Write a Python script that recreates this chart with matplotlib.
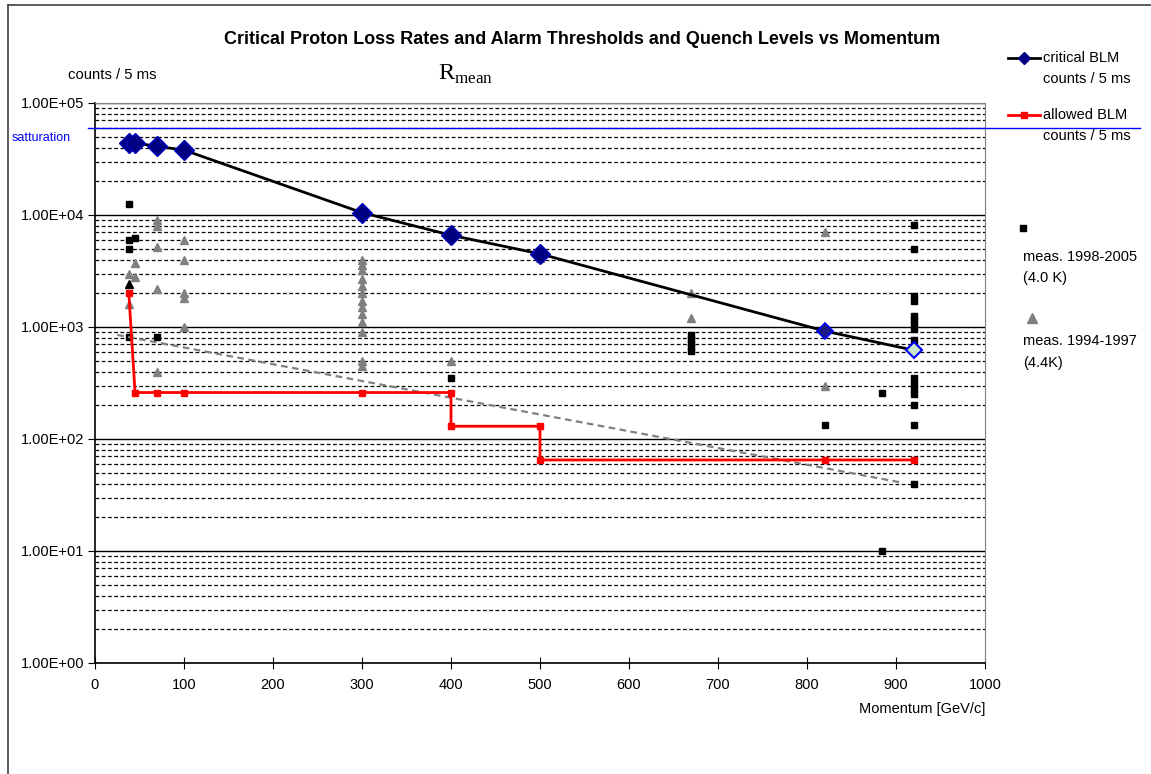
import numpy as np
import matplotlib
matplotlib.use("Agg")
import matplotlib.pyplot as plt
from matplotlib.lines import Line2D
from matplotlib.ticker import LogLocator, NullFormatter

plt.rcParams["font.family"] = ["Liberation Sans", "DejaVu Sans"]

# critical BLM counts (blue diamonds, black line)
crit_p = [38, 45, 70, 100, 300, 400, 500, 820, 920]
crit_c = [44000, 44000, 41000, 38000, 10500, 6600, 4500, 920, 620]

# allowed BLM counts (red step)
allow_p = [38, 45, 70, 100, 300, 400, 400, 500, 500, 820, 920]
allow_c = [2000, 260, 260, 260, 260, 260, 130, 130, 65, 65, 65]

# dashed trend through the measurements
trend_p = [25, 905]
trend_c = [850, 41]

saturation = 60000

# measurements 1998-2005 (4.0 K)
m98_p = [38, 38, 38, 38, 45, 70, 400,
         670, 670, 670, 670, 670, 820, 884, 884,
         920, 920, 920, 920, 920, 920, 920, 920, 920, 920,
         920, 920, 920, 920, 920, 920, 920]
m98_c = [12500, 6000, 5000, 815, 6200, 815, 350,
         850, 780, 720, 660, 610, 133, 260, 10,
         8100, 5000, 1900, 1700, 1250, 1150, 1050, 950, 760, 680,
         350, 310, 280, 250, 200, 133, 40]

# measurements 1994-1997 (4.4 K)
m94_p = [38, 38, 45, 45, 70, 70, 70, 70, 70,
         100, 100, 100, 100, 100,
         300, 300, 300, 300, 300, 300, 300, 300, 300, 300, 300, 300, 300,
         400, 500, 670, 670, 820, 820, 820]
m94_c = [3000, 1600, 3700, 2800, 9000, 8000, 5200, 2200, 400,
         6000, 4000, 2000, 1800, 1000,
         4000, 3600, 3200, 2700, 2300, 2000, 1700, 1500, 1300, 1100, 900, 500, 450,
         500, 4100, 2000, 1200, 7000, 950, 300]

y_ticks = [1e0, 1e1, 1e2, 1e3, 1e4, 1e5]
y_labels = ["1.00E+00", "1.00E+01", "1.00E+02", "1.00E+03", "1.00E+04", "1.00E+05"]
x_ticks = list(range(0, 1001, 100))

W, H = 1151, 774
fig = plt.figure(figsize=(W / 100, H / 100), dpi=100)
ax = fig.add_axes([95 / W, 1 - 663 / H, 890 / W, 560 / H])

ax.set_yscale("log")
ax.set_xlim(0, 1000)
ax.set_ylim(1, 1e5)

# grid
ax.yaxis.set_minor_locator(LogLocator(base=10, subs=np.arange(2, 10)))
ax.yaxis.set_minor_formatter(NullFormatter())
ax.grid(which="major", axis="y", color="black", lw=1.0, ls="-")
ax.grid(which="minor", axis="y", color="black", lw=0.9, ls=(0, (3, 2)))
ax.set_axisbelow(True)

# data
ax.plot(m98_p, m98_c, ls="none", marker="s", ms=5, color="black", zorder=3)
ax.plot(m94_p, m94_c, ls="none", marker="^", ms=6, color="#808080", mec="#808080", zorder=3)
ax.plot([38], [2400], ls="none", marker="^", ms=6, color="black", zorder=3)
ax.plot(trend_p, trend_c, color="#808080", lw=1.6, ls=(0, (3, 2)), zorder=4)
ax.plot(crit_p, crit_c, color="black", lw=2, zorder=5)
ax.plot(crit_p[:-2], crit_c[:-2], ls="none", marker="D", ms=10, color="#000080",
        mec="#0000c0", zorder=6)
ax.plot(crit_p[-2:-1], crit_c[-2:-1], ls="none", marker="D", ms=8.5, mfc="#1a1a80",
        mec="#0000ff", mew=1.2, zorder=6)
ax.plot(crit_p[-1:], crit_c[-1:], ls="none", marker="D", ms=8, mfc="#c8e6c8",
        mec="#0000ff", mew=1.5, zorder=6)
ax.plot(allow_p, allow_c, color="#ff0000", lw=2, marker="s", ms=5, zorder=7)

ax.axhline(saturation, xmin=-7 / 890, xmax=1045 / 890, color="#0000ff", lw=1,
           clip_on=False, zorder=4)

# axes styling
ax.set_yticks(y_ticks)
ax.set_yticklabels(y_labels)
ax.set_xticks(x_ticks)
ax.tick_params(axis="y", which="major", direction="out", length=5, labelsize=10.5, pad=3)
ax.tick_params(axis="y", which="minor", length=0)
ax.tick_params(axis="x", direction="inout", length=9, labelsize=10.5, pad=6)
for s in ["top", "right"]:
    ax.spines[s].set_color("#808080")
for s in ["left", "bottom"]:
    ax.spines[s].set_color("black")
    ax.spines[s].set_linewidth(1.2)

# texts
fig.text(582 / W, 1 - 40 / H, "Critical Proton Loss Rates and Alarm Thresholds and Quench Levels vs Momentum",
         ha="center", va="center", fontsize=13, fontweight="bold")
fig.text(68 / W, 1 - 75 / H, "counts / 5 ms", ha="left", va="center", fontsize=10.7)
fig.text(466 / W, 1 - 74 / H, r"R$_{\mathregular{mean}}$", ha="center", va="center",
         fontsize=17.5, family=["Liberation Serif", "DejaVu Serif"])
fig.text(12 / W, 1 - 138 / H, "satturation", ha="left", va="center", fontsize=9,
         color="#0000ff")
fig.text(985 / W, 1 - 709 / H, "Momentum [GeV/c]", ha="right", va="center", fontsize=10.5)

# legend drawn by hand
fig.add_artist(Line2D([1008 / W, 1040 / W], [1 - 58 / H] * 2, color="black", lw=2))
fig.add_artist(Line2D([1024 / W], [1 - 58 / H], marker="D", ms=6, color="#000080", ls="none"))
fig.text(1043 / W, 1 - 58 / H, "critical BLM", ha="left", va="center", fontsize=10.5)
fig.text(1043 / W, 1 - 79 / H, "counts / 5 ms", ha="left", va="center", fontsize=10.5)
fig.add_artist(Line2D([1008 / W, 1040 / W], [1 - 115 / H] * 2, color="#ff0000", lw=2))
fig.add_artist(Line2D([1024 / W], [1 - 115 / H], marker="s", ms=5, color="#ff0000", ls="none"))
fig.text(1043 / W, 1 - 115 / H, "allowed BLM", ha="left", va="center", fontsize=10.5)
fig.text(1043 / W, 1 - 136 / H, "counts / 5 ms", ha="left", va="center", fontsize=10.5)

fig.add_artist(Line2D([1023 / W], [1 - 228 / H], marker="s", ms=5, color="black", ls="none"))
fig.text(1023 / W, 1 - 257 / H, "meas. 1998-2005", ha="left", va="center", fontsize=10.5)
fig.text(1023 / W, 1 - 278 / H, "(4.0 K)", ha="left", va="center", fontsize=10.5)
fig.add_artist(Line2D([1032 / W], [1 - 318 / H], marker="^", ms=7, color="#808080", ls="none"))
fig.text(1023 / W, 1 - 341 / H, "meas. 1994-1997", ha="left", va="center", fontsize=10.5)
fig.text(1023 / W, 1 - 363 / H, "(4.4K)", ha="left", va="center", fontsize=10.5)

# chart area border (top and left visible)
fig.add_artist(Line2D([8 / W, 8 / W], [0, 1 - 5 / H], color="#404040", lw=1.2))
fig.add_artist(Line2D([8 / W, 1], [1 - 5 / H] * 2, color="#404040", lw=1.2))

fig.savefig("out.png", dpi=100)
